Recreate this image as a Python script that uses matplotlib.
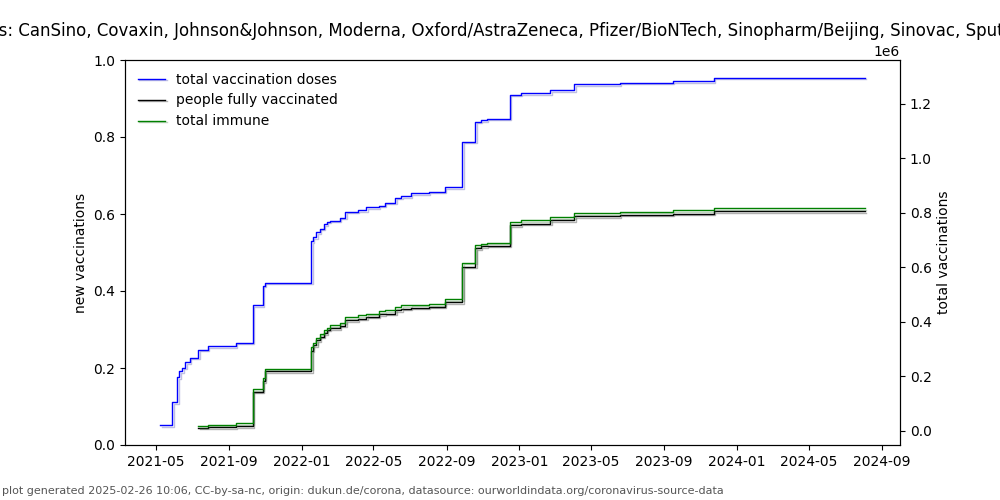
import matplotlib
matplotlib.use("Agg")
import matplotlib.pyplot as plt
import matplotlib.patheffects as pe
import numpy as np
import pandas as pd

dates = ["2021-05-08", "2021-05-28", "2021-06-06", "2021-06-09", "2021-06-14", "2021-06-19",
         "2021-06-27", "2021-07-11", "2021-07-27", "2021-09-12", "2021-10-10", "2021-10-27",
         "2021-10-31", "2022-01-17", "2022-01-19", "2022-01-25", "2022-01-31", "2022-02-07",
         "2022-02-12", "2022-02-17", "2022-03-06", "2022-03-15", "2022-04-05", "2022-04-19",
         "2022-05-10", "2022-05-20", "2022-06-07", "2022-06-17", "2022-07-03", "2022-08-02",
         "2022-08-29", "2022-09-27", "2022-10-19", "2022-10-28", "2022-11-07", "2022-12-16",
         "2023-01-03", "2023-02-22", "2023-04-03", "2023-06-19", "2023-09-16", "2023-11-24",
         "2024-08-03"]

total_doses = [21000, 104000, 196000, 218000, 232000, 251000, 269000, 298000, 311000, 323000,
               460000, 533000, 544000, 695000, 712000, 730000, 742000, 758000, 768000, 771000,
               783000, 805000, 811000, 820000, 827000, 837000, 856000, 862000, 872000, 878000,
               895000, 1062000, 1135000, 1141000, 1146000, 1234000, 1239000, 1251000, 1272000,
               1278000, 1284000, 1297000, 1297000]

nan = float("nan")
fully_vaccinated = [nan, nan, nan, nan, nan, nan, nan,
                    12000, 13000, 18000, 144000, 183000, 218000, 294000, 314000, 333000, 346000,
                    358000, 371000, 377000, 386000, 406000, 412000, 419000, 428000, 430000,
                    443000, 448000, 452000, 456000, 472000, 602000, 670000, 678000, 679000,
                    755000, 760000, 773000, 787000, 794000, 797000, 807000, 807000]

total_immune = [nan, nan, nan, nan, nan, nan, nan,
                17000, 23000, 27000, 153000, 192000, 228000, 306000, 322000, 342000, 357000,
                370000, 379000, 388000, 397000, 418000, 425000, 430000, 438000, 443000,
                454000, 460000, 463000, 466000, 483000, 617000, 681000, 687000, 691000,
                767000, 772000, 784000, 799000, 805000, 810000, 817000, 817000]

title = ("Guyana: vaccines: CanSino, Covaxin, Johnson&Johnson, Moderna, Oxford/AstraZeneca, "
         "Pfizer/BioNTech, Sinopharm/Beijing, Sinovac, Sputnik Light, Sputnik V")
footer = ("plot generated 2025-02-26 10:06, CC-by-sa-nc, origin: dukun.de/corona, "
          "datasource: ourworldindata.org/coronavirus-source-data")

x = pd.to_datetime(dates)

fig, ax = plt.subplots(figsize=(10, 5), dpi=100)
ax2 = ax.twinx()


def shadow(col):
    return [pe.SimpleLineShadow(offset=(1, -1.2), shadow_color=col, alpha=0.3),
            pe.Normal()]


ax2.plot(x, total_doses, color="blue", lw=1, drawstyle="steps-post",
         label="total vaccination doses", path_effects=shadow("#3030a0"))
ax2.plot(x, fully_vaccinated, color="black", lw=1, drawstyle="steps-post",
         label="people fully vaccinated", path_effects=shadow("black"))
ax2.plot(x, total_immune, color="green", lw=1, drawstyle="steps-post",
         label="total immune", path_effects=shadow("#307030"))

ax.set_ylabel("new vaccinations")
ax2.set_ylabel("total vaccinations")
ax.set_ylim(0, 1)
ax.set_title(title)
ax2.legend(loc="upper left", frameon=False)

fig.text(0.002, 0.012, footer, fontsize=8, color="#555555")

fig.savefig("out.png", dpi=100)
